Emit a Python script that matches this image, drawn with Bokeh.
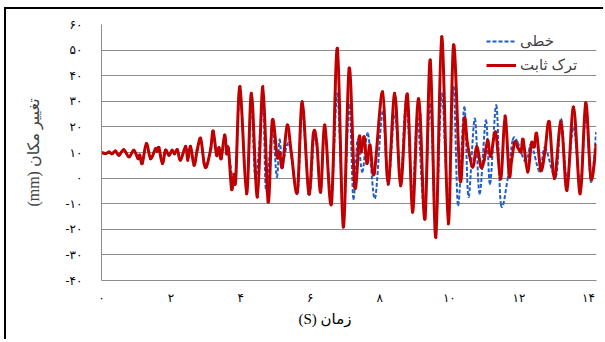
from bokeh.plotting import figure
from bokeh.models import Range1d, FixedTicker, Legend, LegendItem, Title
from bokeh.embed import file_html
from bokeh.resources import INLINE

# ---- data ----
t_red = [0, 0.12, 0.22, 0.3, 0.4, 0.5, 0.64, 0.79, 0.93, 1.05, 1.1, 1.17, 1.29, 1.41, 1.55, 1.6, 1.65,
         1.75, 1.84, 1.94, 2.03, 2.1, 2.18, 2.27, 2.42, 2.48, 2.56, 2.66, 2.75, 2.85, 2.95, 3.02, 3.14,
         3.21, 3.31, 3.38, 3.44, 3.54, 3.6, 3.65, 3.74, 3.81, 3.86, 3.98,
         4.17, 4.31, 4.48, 4.64, 4.79, 4.91, 5.05, 5.12, 5.2, 5.34, 5.46, 5.63, 5.77, 5.96, 6.09, 6.19,
         6.3, 6.42, 6.61, 6.78, 6.95, 7.12, 7.28, 7.41, 7.47, 7.55, 7.63, 7.72, 7.84, 8.08, 8.24, 8.43,
         8.6, 8.79, 8.94, 9.08, 9.16, 9.3, 9.45, 9.61, 9.78, 9.97, 10.12, 10.31, 10.43, 10.52, 10.67,
         10.79, 10.91, 11.0, 11.1, 11.19, 11.33, 11.48, 11.6, 11.72, 11.79, 11.88, 11.96, 12.06, 12.12,
         12.25, 12.36, 12.44, 12.51, 12.63, 12.75, 12.87, 13.02, 13.21, 13.38, 13.57, 13.76, 13.92,
         14.07, 14.22]
v_red = [10.0, 9.6, 10.2, 9.5, 10.6, 8.9, 11.1, 8.3, 10.9, 7.6, 9.0, 5.7, 13.5, 7.6, 11.5, 10.5, 11.9,
         5.7, 10.9, 8.9, 10.9, 9.5, 11.1, 7.0, 12.4, 7.0, 12.4, 5.0, 10.9, 15.5, 5.7, 4.6, 11.5,
         18.4, 8.9, 11.9, 7.6, 16.8, 9.5, 11.5, -4.3, 1.5, -0.5, 35.7,
         -6.1, 33.1, -7.4, 35.7, -9.3, 22.6, 8.3, 10.0, 4.3, 20.7, 9.6, -5.4, 29.8, -6.1, 17.4, 13.5,
         -5.4, 20.7, -10.0, 50.7, -19.1, 42.9, -3.5, 16.1, 10.2, 16.1, 5.7, 12.9, 1.8, 33.7, -2.2, 33.1,
         -3.0, 32.8, -13.3, 27.2, 24.6, -15.9, 46.1, -23.1, 55.2, -17.8, 52.0, -0.9, 23.3, 13.5, 4.3,
         12.2, 4.3, 7.0, 14.8, 8.5, 18.0, -0.2, 24.2, 1.1, 7.0, 14.1, 12.2, 10.2, 15.1,
         2.4, 13.7, 12.2, 17.4, 3.0, 10.6, 22.0, -0.2, 22.0, -4.8, 27.8, -6.1, 29.4,
         -0.2, 12.8]

t_blue = [0, 0.12, 0.22, 0.3, 0.4, 0.5, 0.64, 0.79, 0.93, 1.05, 1.1, 1.17, 1.29, 1.41, 1.55, 1.6, 1.65,
          1.75, 1.84, 1.94, 2.03, 2.1, 2.18, 2.27, 2.42, 2.48, 2.56, 2.66, 2.75, 2.85, 2.95, 3.02, 3.14,
          3.21, 3.31, 3.38, 3.44, 3.54, 3.6, 3.64, 3.83, 3.98,
          4.17, 4.31, 4.43, 4.64, 4.73, 4.91, 5.04, 5.12, 5.2, 5.39, 5.63, 5.77, 5.97, 6.11, 6.2,
          6.3, 6.42, 6.61, 6.78, 6.95, 7.12, 7.24, 7.36, 7.5, 7.66, 7.86, 8.08, 8.24, 8.43,
          8.6, 8.76, 8.94, 9.08, 9.28, 9.45, 9.61, 9.78, 9.97, 10.12, 10.25, 10.43, 10.55, 10.73,
          10.87, 11.05, 11.17, 11.35, 11.48, 11.67, 11.82, 11.96, 12.15, 12.25, 12.36, 12.6, 12.75,
          13.06, 13.21, 13.38, 13.57, 13.76, 13.93, 14.07, 14.22]
v_blue = [10.0, 9.4, 10.1, 9.4, 10.4, 8.7, 10.9, 8.1, 10.7, 7.4, 8.8, 5.9, 13.1, 7.8, 11.3, 10.3, 11.6,
          6.0, 10.6, 8.7, 10.6, 9.3, 10.8, 7.2, 12.0, 7.3, 12.0, 5.3, 10.6, 15.0, 6.0, 5.0, 11.2,
          17.8, 9.1, 11.5, 7.9, 16.2, 9.5, 12.2, -2.2, 33.0,
          -3.0, 29.2, -0.9, 27.8, -4.8, 19.4, 0.4, 15.1, 5.7, 13.5, -6.1, 26.5, -6.5, 16.0, 12.0,
          -6.1, 18.7, -7.4, 33.1, -15.2, 28.5, -8.0, 14.8, 2.4, 17.4, -8.0, 25.9, -2.8, 25.2,
          0.0, 30.0, -6.1, 23.9, -12.6, 29.1, -19.1, 33.1, -11.9, 35.7, -10.6, 27.8, -7.4, 23.3,
          -6.1, 22.6, -2.2, 28.5, -10.0, -0.8, 14.8, 14.0, 7.0, 8.0, 13.0, 2.4, 12.0,
          0.4, 23.3, -0.8, 20.0, -2.0, 25.0, -1.5, 18.0]

x_ticks = [0, 2, 4, 6, 8, 10, 12, 14]
x_tick_labels = ["۰", "۲", "۴", "۶", "۸", "۱۰", "۱۲", "۱۴"]
y_ticks = [-40, -30, -20, -10, 0, 10, 20, 30, 40, 50, 60]
y_tick_labels = ["-۴۰", "-۳۰", "-۲۰", "-۱۰", "۰", "۱۰", "۲۰", "۳۰", "۴۰", "۵۰", "۶۰"]

series_names = ["خطی", "ترک ثابت"]
x_title = "\u202bزمان (S)\u202c"
y_title = "\u202bتغییر مکان (mm)\u202c"

FONT = "Liberation Serif, DejaVu Sans"
GRID = "#8c8c8c"
RED = "#C00000"
BLUE = "#1F5FC4"


def smooth_segments(t, v):
    """Cubic (Catmull-Rom style) segments through the data points, like a smoothed chart line."""
    n = len(t)
    seg = {k: [] for k in ("x0", "y0", "x1", "y1", "cx0", "cy0", "cx1", "cy1")}
    for i in range(n - 1):
        a = i - 1 if i > 0 else i
        d = i + 2 if i + 2 < n else i + 1
        seg["x0"].append(t[i]); seg["y0"].append(v[i])
        seg["x1"].append(t[i + 1]); seg["y1"].append(v[i + 1])
        seg["cx0"].append(t[i] + (t[i + 1] - t[a]) / 6.0)
        seg["cy0"].append(v[i] + (v[i + 1] - v[a]) / 6.0)
        seg["cx1"].append(t[i + 1] - (t[d] - t[i]) / 6.0)
        seg["cy1"].append(v[i + 1] - (v[d] - v[i]) / 6.0)
    return seg


p = figure(width=603, height=339, x_range=Range1d(0, 14.23), y_range=Range1d(-40, 60),
           output_backend="svg", toolbar_location=None,
           min_border_left=101, min_border_right=7, min_border_top=24, min_border_bottom=59)
# outer chart border (left and top edges), shown through the transparent canvas border area
p.styles = {"box-shadow": "inset 4px 7px 0 0 #fff, inset 6px 9px 0 0 #000"}
p.outline_line_color = None
p.background_fill_color = "white"
p.border_fill_alpha = 0

p.xgrid.visible = False
p.ygrid.grid_line_color = GRID
p.ygrid.grid_line_width = 1
p.ygrid.ticker = FixedTicker(ticks=y_ticks)

p.xaxis.ticker = FixedTicker(ticks=x_ticks)
p.xaxis.major_label_overrides = {k: s for k, s in zip(x_ticks, x_tick_labels)}
p.yaxis.ticker = FixedTicker(ticks=y_ticks)
p.yaxis.major_label_overrides = {k: s for k, s in zip(y_ticks, y_tick_labels)}

for ax in (p.xaxis, p.yaxis):
    ax.axis_line_color = GRID
    ax.major_tick_line_color = None
    ax.minor_tick_line_color = None
    ax.major_label_text_font = FONT
    ax.major_label_text_font_size = "12px"
    ax.major_label_text_color = "black"
p.xaxis.major_label_standoff = 4
p.yaxis.major_label_standoff = 13

p.yaxis.axis_label = y_title
p.yaxis.axis_label_text_font = FONT
p.yaxis.axis_label_text_font_size = "16px"
p.yaxis.axis_label_text_font_style = "normal"
p.yaxis.axis_label_standoff = 21

sb = smooth_segments(t_blue, v_blue)
sr = smooth_segments(t_red, v_red)
p.bezier(line_color=BLUE, line_width=2, line_dash="4 2", **sb)
p.bezier(line_color=RED, line_width=3, line_cap="round", **sr)

# legend renderers: the same series as plain lines, kept hidden (the curves above are what is drawn)
lb = p.line(t_blue, v_blue, line_color=BLUE, line_width=2, line_dash="4 2", visible=False)
lr = p.line(t_red, v_red, line_color=RED, line_width=3, visible=False)

legend = Legend(items=[LegendItem(label=series_names[0], renderers=[lb]),
                       LegendItem(label=series_names[1], renderers=[lr])],
                location=(385, 205), orientation="vertical",
                glyph_width=30, glyph_height=20, label_height=20, spacing=4,
                padding=0, margin=0, label_standoff=4,
                border_line_color=None, background_fill_alpha=0,
                inactive_fill_alpha=0, click_policy="none",
                label_text_font=FONT, label_text_font_size="15px")
p.add_layout(legend)

p.add_layout(Title(text=x_title, align="left", offset=197, standoff=2,
                   text_font=FONT, text_font_size="15px", text_font_style="normal",
                   text_color="black"), "below")

open("out.html", "w").write(file_html(p, INLINE))
